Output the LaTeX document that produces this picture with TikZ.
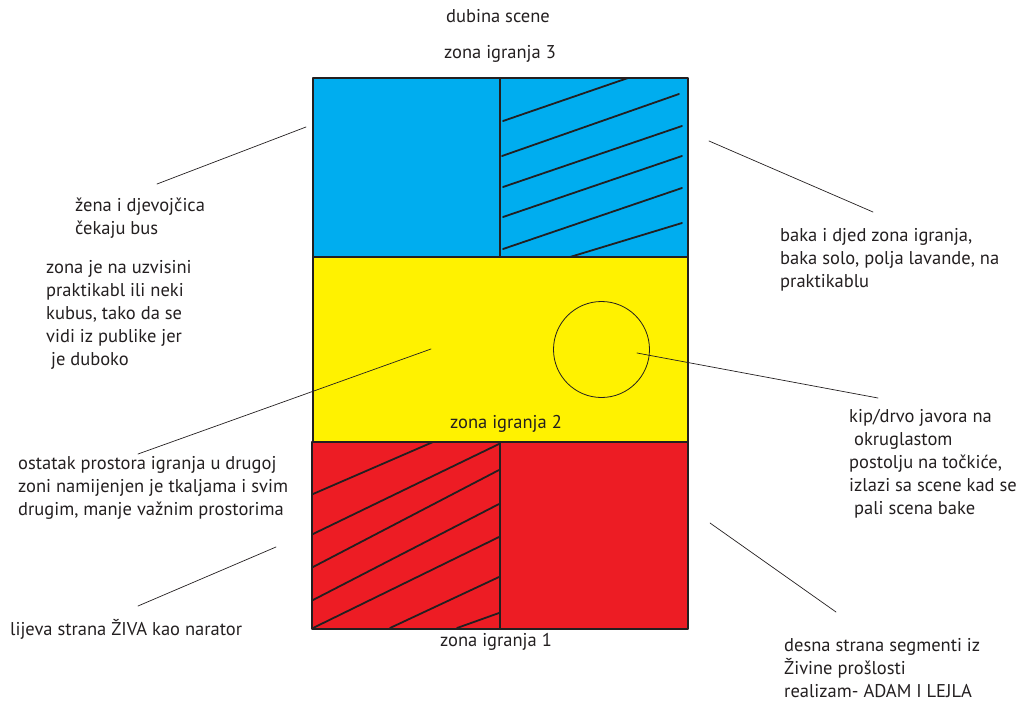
\documentclass[tikz,border=0pt]{standalone}
\usepackage{fontspec}
\setmainfont{PT Sans}
\definecolor{zonaplava}{RGB}{0,173,239}
\definecolor{zonazuta}{RGB}{255,242,0}
\definecolor{zonacrvena}{RGB}{237,28,36}
\definecolor{obrub}{RGB}{35,31,32}
\begin{document}
\begin{tikzpicture}[x=1pt, y=-1pt, line cap=round, line join=round,
  opis/.style={anchor=north west, inner sep=0pt, align=left,
    font=\fontsize{18.5}{23}\selectfont, text=obrub},
  naslov/.style={anchor=base, inner sep=0pt,
    font=\fontsize{18.5}{23}\selectfont, text=obrub},
  crta/.style={line width=0.7pt, obrub},
  srafura/.style={line width=1.8pt, obrub}]

\useasboundingbox (0,0) rectangle (1019,704);

% Zone
\fill[zonaplava] (313,78) rectangle (688,257);
\fill[zonazuta] (313,257) rectangle (688,442);
\fill[zonacrvena] (312,442) rectangle (688,629);

% Srafura gore desno
\foreach \xa/\ya/\xb/\yb in {503/121/628/78, 502/156/679/94, 503/187/682/126,
                   503/217/682/156, 503/249/682/188, 570/257/682/223}
  \draw[srafura] (\xa,\ya) -- (\xb,\yb);

% Srafura dolje lijevo
\foreach \xa/\ya/\xb/\yb in {313/494/433/442, 313/534/499/444, 313/567/499/470,
                   313/600/499/504, 313/628/499/537, 390/628/499/577, 457/628/499/613}
  \draw[srafura] (\xa,\ya) -- (\xb,\yb);

% Obrubi
\draw[srafura] (313,78) rectangle (688,257);
\draw[srafura] (313,257) rectangle (688,442);
\draw[srafura] (312,442) rectangle (688,629);
\draw[line width=1.3pt, obrub] (500,78) -- (500,257);
\draw[srafura] (500,442) -- (500,629);

% Kip na postolju
\draw[line width=0.8pt, obrub] (601.5,349.5) circle (48);

% Natpisi zona
\node[naslov] (dubina) at (498,22) {dubina scene};
\node[naslov] (zona3) at (500,58) {zona igranja 3};
\node[naslov] (zona2) at (506,428) {zona igranja 2};
\node[naslov] (zona1) at (496,646) {zona igranja 1};

% Opisi
\node[opis] (zena) at (75,198) {žena i djevojčica\\čekaju bus};
\node[opis] (uzvisina) at (46,260) {zona je na uzvisini\\praktikabl ili neki\\kubus, tako da se\\vidi iz publike jer\\\ je duboko};
\node[opis] (ostatak) at (18,456) {ostatak prostora igranja u drugoj\\zoni namijenjen je tkaljama i svim\\drugim, manje važnim prostorima};
\node[opis] (lijeva) at (10,619) {lijeva strana ŽIVA kao narator};
\node[opis] (baka) at (780,228) {baka i djed zona igranja,\\baka solo, polja lavande, na\\praktikablu};
\node[opis] (kip) at (849,409) {kip/drvo javora na\\\ okruglastom\\postolju na točkiće,\\izlazi sa scene kad se\\\ pali scena bake};
\node[opis] (desna) at (784,638) {desna strana segmenti iz\\Živine prošlosti\\realizam- ADAM I LEJLA};

% Vodilice
\coordinate (zena-a) at (306,127);   \coordinate (zena-b) at (157,184);
\coordinate (baka-a) at (709,141);   \coordinate (baka-b) at (873,212);
\coordinate (ostatak-a) at (431,349); \coordinate (ostatak-b) at (138,454);
\coordinate (kip-a) at (637,353);    \coordinate (kip-b) at (878,398);
\coordinate (lijeva-a) at (276,547); \coordinate (lijeva-b) at (138,606);
\coordinate (desna-a) at (710,523);  \coordinate (desna-b) at (836,612);
\draw[crta] (zena-a) -- (zena-b);
\draw[crta] (baka-a) -- (baka-b);
\draw[crta] (ostatak-a) -- (ostatak-b);
\draw[crta] (kip-a) -- (kip-b);
\draw[crta] (lijeva-a) -- (lijeva-b);
\draw[crta] (desna-a) -- (desna-b);

\end{tikzpicture}
\end{document}
